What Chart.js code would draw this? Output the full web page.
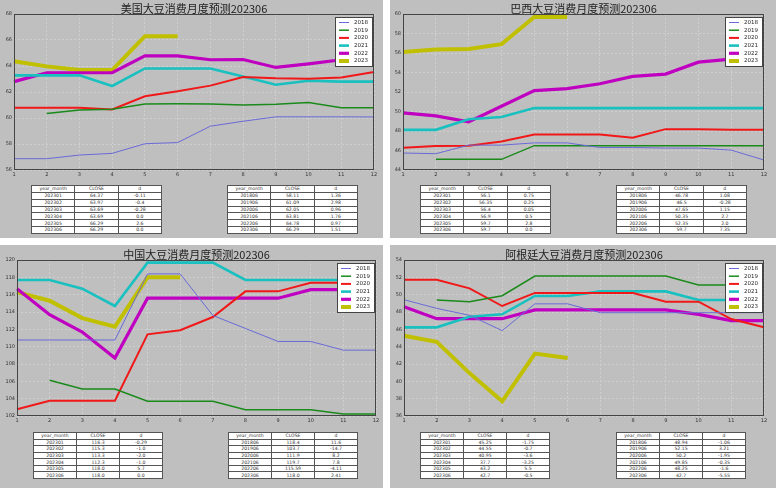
<!DOCTYPE html>
<html><head><meta charset="utf-8">
<script src="https://cdn.jsdelivr.net/npm/chart.js@4.4.0/dist/chart.umd.min.js"></script>
<style>
html,body{margin:0;padding:0}
body{width:776px;height:488px;background:#fff;position:relative;overflow:hidden;font-family:"DejaVu Sans",sans-serif}
.panel{position:absolute;background:#bfbfbf;overflow:hidden}
.panel canvas{position:absolute;left:0;top:0}
.title{position:absolute;font-family:"Noto Sans CJK SC","Noto Sans",sans-serif;font-size:11px;line-height:11px;color:#222;white-space:nowrap;transform:translateX(-50%)}
table.tb{position:absolute;border-collapse:collapse;background:#fff;table-layout:fixed;font-family:"DejaVu Sans",sans-serif;font-size:4.6px;color:#333}
table.tb td{border:1px solid #555;text-align:center;padding:0;overflow:hidden;white-space:nowrap;line-height:5px}
</style>
</head><body>
<script>
// ---------- data ----------
const MONTHS = [1,2,3,4,5,6,7,8,9,10,11,12];
const YEARS = ['2018','2019','2020','2021','2022','2023'];

// 美国
const US_2018 = [56.87,56.87,57.15,57.28,58.02,58.11,59.37,59.75,60.09,60.09,60.09,60.08];
const US_2019 = [null,60.34,60.62,60.67,61.08,61.09,61.08,61.0,61.06,61.2,60.78,60.78];
const US_2020 = [60.78,60.78,60.78,60.65,61.67,62.05,62.49,63.15,63.05,63.02,63.12,63.53];
const US_2021 = [63.28,63.28,63.28,62.46,63.81,63.81,63.81,63.2,62.56,62.87,62.8,62.8];
const US_2022 = [62.8,63.48,63.48,63.48,64.78,64.78,64.48,64.5,63.89,64.17,64.48,64.48];
const US_2023 = [64.37,63.97,63.69,63.69,66.29,66.29];

// 巴西
const BR_2018 = [45.74,45.67,46.55,46.55,46.78,46.78,46.31,46.31,46.25,46.25,46.04,45.02];
const BR_2019 = [null,45.09,45.09,45.09,46.5,46.5,46.5,46.5,46.5,46.5,46.5,46.5];
const BR_2020 = [46.28,46.45,46.48,46.93,47.65,47.65,47.65,47.3,48.19,48.19,48.12,48.12];
const BR_2021 = [48.12,48.12,49.2,49.44,50.35,50.35,50.35,50.35,50.35,50.35,50.35,50.35];
const BR_2022 = [49.86,49.55,48.94,50.54,52.14,52.35,52.85,53.6,53.84,55.06,55.37,55.37];
const BR_2023 = [56.1,56.35,56.4,56.9,59.7,59.7];

// 中国
const CN_2018 = [110.77,110.77,110.77,110.77,118.4,118.4,113.6,112.1,110.6,110.6,109.6,109.6];
const CN_2019 = [null,106.12,105.12,105.12,103.7,103.7,103.7,102.73,102.73,102.73,102.23,102.23];
const CN_2020 = [102.77,103.77,103.77,103.77,111.42,111.9,113.42,116.38,116.38,117.38,117.38,117.38];
const CN_2021 = [117.69,117.69,116.69,114.69,119.7,119.7,119.7,117.69,117.69,117.69,117.69,117.69];
const CN_2022 = [116.69,113.69,111.69,108.69,115.59,115.59,115.59,115.59,115.59,116.58,116.58,116.58];
const CN_2023 = [116.3,115.3,113.3,112.3,118.0,118.0];

// 阿根廷
const AR_2018 = [49.42,48.42,47.62,45.85,48.94,48.94,47.92,47.92,47.92,47.92,47.92,47.92];
const AR_2019 = [null,49.38,49.19,49.88,52.15,52.15,52.15,52.15,52.15,51.12,51.12,51.77];
const AR_2020 = [51.73,51.73,50.73,48.69,50.2,50.2,50.2,50.2,49.19,49.19,47.19,46.23];
const AR_2021 = [46.23,46.23,47.46,47.73,49.85,49.85,50.38,50.38,50.38,49.38,49.38,49.38];
const AR_2022 = [48.62,47.23,47.23,47.23,48.25,48.25,48.25,48.25,48.25,47.73,47.0,47.0];
const AR_2023 = [45.25,44.55,40.95,37.7,43.2,42.7];

// 表格
const TABLE_HEAD = ['year_month','CLOSE','d'];
const RECENT_MONTHS = ['202301','202302','202303','202304','202305','202306'];
const JUNE_MONTHS = ['201806','201906','202006','202106','202206','202306'];

const US_RECENT_CLOSE = ['64.37','63.97','63.69','63.69','66.29','66.29'];
const US_RECENT_D = ['-0.11','-0.4','-0.28','0.0','2.6','0.0'];
const US_JUNE_CLOSE = ['58.11','61.09','62.05','63.81','64.78','66.29'];
const US_JUNE_D = ['1.36','2.98','0.96','1.76','0.97','1.51'];

const BR_RECENT_CLOSE = ['56.1','56.35','56.4','56.9','59.7','59.7'];
const BR_RECENT_D = ['0.75','0.25','0.05','0.5','2.8','0.0'];
const BR_JUNE_CLOSE = ['46.78','46.5','47.65','50.35','52.35','59.7'];
const BR_JUNE_D = ['1.08','-0.28','1.15','2.7','2.0','7.35'];

const CN_RECENT_CLOSE = ['116.3','115.3','113.3','112.3','118.0','118.0'];
const CN_RECENT_D = ['-0.29','-1.0','-2.0','-1.0','5.7','0.0'];
const CN_JUNE_CLOSE = ['118.4','103.7','111.9','119.7','115.59','118.0'];
const CN_JUNE_D = ['11.6','-14.7','8.2','7.8','-4.11','2.41'];

const AR_RECENT_CLOSE = ['45.25','44.55','40.95','37.7','43.2','42.7'];
const AR_RECENT_D = ['-1.75','-0.7','-3.6','-3.25','5.5','-0.5'];
const AR_JUNE_CLOSE = ['48.94','52.15','50.2','49.85','48.25','42.7'];
const AR_JUNE_D = ['-1.06','3.21','-1.95','-0.35','-1.6','-5.55'];

// ---------- styles ----------
const COLORS = ['#6a6ad8','#1a8a1a','#f01818','#18c0c0','#c000c0','#c0c000'];
const WIDTHS = [1,1.5,2,2.6,3.2,4];

const framePlugin = {
  id:'frame',
  afterDraw(chart){
    const {ctx, chartArea:a} = chart;
    ctx.save();
    ctx.strokeStyle = '#444';
    ctx.lineWidth = 1;
    ctx.strokeRect(Math.round(a.left)+0.5, Math.round(a.top)+0.5, Math.round(a.right-a.left)-1, Math.round(a.bottom-a.top)-1);
    ctx.restore();
  }
};
const boxLegend = {
  id:'boxLegend',
  afterDatasetsDraw(chart){
    const {ctx, chartArea:a} = chart;
    const w = 37, h = 49;
    const x = Math.round(a.right - 2 - w), y = Math.round(a.top + 3);
    ctx.save();
    ctx.fillStyle = '#fff';
    ctx.fillRect(x, y, w, h);
    ctx.strokeStyle = '#444';
    ctx.lineWidth = 1;
    ctx.strokeRect(x+0.5, y+0.5, w, h);
    chart.data.datasets.forEach((ds, i) => {
      const cy = y + 5.5 + i*7.7;
      ctx.strokeStyle = ds.borderColor;
      ctx.lineWidth = ds.borderWidth;
      ctx.beginPath(); ctx.moveTo(x+4, cy); ctx.lineTo(x+14, cy); ctx.stroke();
      ctx.fillStyle = '#222';
      ctx.font = '5.5px "DejaVu Sans"';
      ctx.textBaseline = 'middle';
      ctx.fillText(ds.label, x+19, cy);
    });
    ctx.restore();
  }
};

function makeTable(parent, left, top, width, height, col1, col2, col3) {
  const t = document.createElement('table');
  t.className = 'tb';
  t.style.left = left + 'px'; t.style.top = top + 'px';
  t.style.width = width + 'px'; t.style.height = height + 'px';
  const rows = [TABLE_HEAD].concat(col1.map((m, i) => [m, col2[i], col3[i]]));
  rows.forEach(r => {
    const tr = document.createElement('tr');
    r.forEach(c => { const td = document.createElement('td'); td.textContent = c; tr.appendChild(td); });
    tr.style.height = (height/7) + 'px';
    t.appendChild(tr);
  });
  parent.appendChild(t);
}

function makePanel(p) {
  const div = document.createElement('div');
  div.className = 'panel';
  div.style.left = p.x + 'px'; div.style.top = p.y + 'px';
  div.style.width = p.w + 'px'; div.style.height = p.h + 'px';
  document.body.appendChild(div);
  const [L, T, R, B] = p.area;
  const cv = document.createElement('canvas');
  cv.width = p.w; cv.height = B + 10;
  div.appendChild(cv);
  const title = document.createElement('div');
  title.className = 'title';
  title.textContent = p.title;
  title.style.left = ((L + R) / 2) + 'px';
  title.style.top = (T - 11) + 'px';
  div.appendChild(title);

  new Chart(cv, {
    type: 'line',
    data: {
      labels: MONTHS,
      datasets: YEARS.map((yr, i) => ({
        label: yr, data: p.series[i], borderColor: COLORS[i], backgroundColor: COLORS[i],
        borderWidth: WIDTHS[i], pointRadius: 0, tension: 0, fill: false
      }))
    },
    options: {
      responsive: false, animation: false, devicePixelRatio: 1,
      layout: { padding: { left: 0, top: T, right: p.w - R, bottom: 0 } },
      plugins: { legend: { display: false }, title: { display: false }, tooltip: { enabled: false } },
      scales: {
        x: {
          offset: false,
          grid: { color: '#cfcfcf', drawTicks: false, lineWidth: 1 },
          border: { display: false, dash: [2, 2] },
          ticks: { font: { size: 5, family: 'DejaVu Sans' }, color: '#333', padding: 2, maxRotation: 0, autoSkip: false },
          afterFit(s) { s.height = cv.height - B; }
        },
        y: {
          min: p.ymin, max: p.ymax,
          grid: { color: '#cfcfcf', drawTicks: false, lineWidth: 1 },
          border: { display: false, dash: [2, 2] },
          ticks: { stepSize: 2, font: { size: 5, family: 'DejaVu Sans' }, color: '#333', padding: 2 },
          afterFit(s) { s.width = L; }
        }
      }
    },
    plugins: [framePlugin, boxLegend]
  });

  makeTable(div, p.t1[0], p.t1[1], p.tw, p.th, RECENT_MONTHS, p.rc, p.rd);
  makeTable(div, p.t2[0], p.t2[1], p.tw, p.th, JUNE_MONTHS, p.jc, p.jd);
}

makePanel({ x:0, y:0, w:383, h:238, area:[14,14,374,170], title:'美国大豆消费月度预测202306',
  ymin:56, ymax:68, series:[US_2018,US_2019,US_2020,US_2021,US_2022,US_2023],
  t1:[31,185], t2:[227,185], tw:131, th:48,
  rc:US_RECENT_CLOSE, rd:US_RECENT_D, jc:US_JUNE_CLOSE, jd:US_JUNE_D });
makePanel({ x:390, y:0, w:386, h:238, area:[13,14,374,170], title:'巴西大豆消费月度预测202306',
  ymin:44, ymax:60, series:[BR_2018,BR_2019,BR_2020,BR_2021,BR_2022,BR_2023],
  t1:[30,185], t2:[226,185], tw:131, th:48,
  rc:BR_RECENT_CLOSE, rd:BR_RECENT_D, jc:BR_JUNE_CLOSE, jd:BR_JUNE_D });
makePanel({ x:0, y:245, w:383, h:243, area:[17,15,376,171], title:'中国大豆消费月度预测202306',
  ymin:102, ymax:120, series:[CN_2018,CN_2019,CN_2020,CN_2021,CN_2022,CN_2023],
  t1:[33,187], t2:[228,187], tw:130, th:46,
  rc:CN_RECENT_CLOSE, rd:CN_RECENT_D, jc:CN_JUNE_CLOSE, jd:CN_JUNE_D });
makePanel({ x:390, y:245, w:386, h:243, area:[14,15,374,171], title:'阿根廷大豆消费月度预测202306',
  ymin:36, ymax:54, series:[AR_2018,AR_2019,AR_2020,AR_2021,AR_2022,AR_2023],
  t1:[30,187], t2:[226,187], tw:130, th:46,
  rc:AR_RECENT_CLOSE, rd:AR_RECENT_D, jc:AR_JUNE_CLOSE, jd:AR_JUNE_D });
</script>
</body></html>
